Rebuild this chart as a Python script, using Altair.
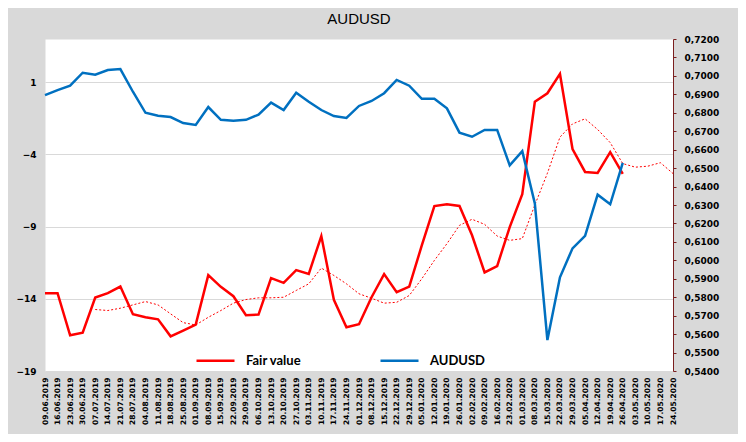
import altair as alt
import pandas as pd

dates = ["09.06.2019", "16.06.2019", "23.06.2019", "30.06.2019", "07.07.2019", "14.07.2019",
         "21.07.2019", "28.07.2019", "04.08.2019", "11.08.2019", "18.08.2019", "25.08.2019",
         "01.09.2019", "08.09.2019", "15.09.2019", "22.09.2019", "29.09.2019", "06.10.2019",
         "13.10.2019", "20.10.2019", "27.10.2019", "03.11.2019", "10.11.2019", "17.11.2019",
         "24.11.2019", "01.12.2019", "08.12.2019", "15.12.2019", "22.12.2019", "29.12.2019",
         "05.01.2020", "12.01.2020", "19.01.2020", "26.01.2020", "02.02.2020", "09.02.2020",
         "16.02.2020", "23.02.2020", "01.03.2020", "08.03.2020", "15.03.2020", "22.03.2020",
         "29.03.2020", "05.04.2020", "12.04.2020", "19.04.2020", "26.04.2020", "03.05.2020",
         "10.05.2020", "17.05.2020", "24.05.2020"]

fair_value = [-13.61, -13.61, -16.53, -16.34, -13.91, -13.61, -13.15, -15.07, -15.28, -15.42,
              -16.60, -16.20, -15.78, -12.36, -13.17, -13.82, -15.14, -15.09, -12.57, -12.89,
              -12.01, -12.27, -9.65, -14.07, -15.97, -15.76, -13.89, -12.29, -13.54, -13.15,
              -10.30, -7.57, -7.45, -7.57, -9.60, -12.17, -11.73, -9.03, -6.75, -0.35,
              0.24, 1.58, -3.62, -5.21, -5.28, -3.84, -5.35]

fair_avg_start = 4
fair_avg = [-14.74, -14.81, -14.65, -14.42, -14.19, -14.42, -15.04, -15.65, -15.81, -15.28,
            -14.81, -14.30, -14.05, -13.93, -13.93, -13.89, -13.42, -12.96, -11.87, -12.38,
            -12.96, -13.65, -13.96, -14.30, -14.24, -13.77, -12.61, -11.34, -10.18, -8.91,
            -8.49, -8.84, -9.65, -9.95, -9.83, -7.5, -5.3, -2.8, -1.88, -1.53,
            -2.27, -3.18, -4.63, -4.88, -4.81, -4.57, -5.32]

audusd = [0.6896, 0.6923, 0.6947, 0.7017, 0.7006, 0.7032, 0.7037, 0.6914, 0.6800, 0.6784,
          0.6777, 0.6744, 0.6734, 0.6831, 0.6762, 0.6757, 0.6762, 0.6790, 0.6855, 0.6815,
          0.6909, 0.6860, 0.6815, 0.6782, 0.6772, 0.6837, 0.6864, 0.6906, 0.6978, 0.6947,
          0.6876, 0.6876, 0.6824, 0.6692, 0.6670, 0.6707, 0.6707, 0.6515, 0.6592, 0.6309,
          0.5568, 0.5908, 0.6065, 0.6133, 0.6356, 0.6304, 0.6528]

left_ticks = [-19, -14, -9, -4, 1]
right_ticks = [0.54, 0.55, 0.56, 0.57, 0.58, 0.59, 0.60, 0.61, 0.62, 0.63,
               0.64, 0.65, 0.66, 0.67, 0.68, 0.69, 0.70, 0.71, 0.72]

df_fair = pd.DataFrame({"date": dates[:len(fair_value)], "value": fair_value, "series": "Fair value"})
df_avg = pd.DataFrame({"date": dates[fair_avg_start:fair_avg_start + len(fair_avg)], "value": fair_avg})
df_aud = pd.DataFrame({"date": dates[:len(audusd)], "value": audusd, "series": "AUDUSD"})

LABEL_FONT = "DejaVu Sans"

x_enc = alt.X("date:O",
              scale=alt.Scale(type="point", domain=dates, padding=0),
              axis=alt.Axis(title=None, labelAngle=270, labelFont=LABEL_FONT, labelFontSize=7.5,
                            labelFontWeight="bold", labelColor="black", labelPadding=6,
                            labelOverlap=False, ticks=False, domain=False, grid=False))

color_scale = alt.Scale(domain=["Fair value", "AUDUSD"], range=["#ff0000", "#0070c0"])
legend = alt.Legend(title=None, orient="none", legendX=150, legendY=301, direction="horizontal",
                    symbolType="stroke", symbolSize=1444, symbolStrokeWidth=2.5,
                    labelFont="Lato", labelFontSize=13, labelFontWeight="bold", labelColor="black",
                    labelOffset=10, columnPadding=73)

left_y = alt.Y("value:Q", scale=alt.Scale(domain=[-19, 4], nice=False, zero=False),
               axis=alt.Axis(title=None, values=left_ticks, labelFont=LABEL_FONT, labelFontSize=9,
                             labelFontWeight="bold", labelColor="black", labelPadding=9,
                             ticks=False, domain=False, grid=True, gridColor="#d9d9d9",
                             gridWidth=1))

fair_line = alt.Chart(df_fair).mark_line(strokeWidth=2.5).encode(
    x=x_enc, y=left_y,
    color=alt.Color("series:N", scale=color_scale, legend=legend))

avg_line = alt.Chart(df_avg).mark_line(strokeWidth=1, strokeDash=[2, 2], color="#ff0000").encode(
    x=x_enc, y=alt.Y("value:Q", scale=alt.Scale(domain=[-19, 4], nice=False, zero=False)))

right_y = alt.Y("value:Q", scale=alt.Scale(domain=[0.54, 0.72], nice=False, zero=False),
                axis=alt.Axis(title=None, orient="right", values=right_ticks,
                              labelExpr="replace(format(datum.value, '.4f'), '.', ',')",
                              labelFont=LABEL_FONT, labelFontSize=9, labelFontWeight="bold",
                              labelColor="black", labelPadding=8, tickSize=3, tickColor="#7a1f1f",
                              domain=True, domainColor="#7a1f1f", domainWidth=1, grid=False))

aud_line = alt.Chart(df_aud).mark_line(strokeWidth=2.5).encode(
    x=x_enc, y=right_y,
    color=alt.Color("series:N", scale=color_scale, legend=legend))

left = alt.layer(fair_line, avg_line)
chart = alt.layer(left, aud_line).resolve_scale(y="independent").properties(
    width=628, height=332,
    title=alt.TitleParams("AUDUSD", font="Liberation Sans", fontSize=15, fontWeight="normal",
                          color="black", anchor="middle", offset=8),
    autosize=alt.AutoSizeParams(type="none"),
    padding={"left": 37, "top": 31, "right": 65, "bottom": 63},
    background="#d9d9d9",
).configure_view(fill="white", stroke="transparent")

chart.save("out.html", embed_options={"renderer": "svg", "actions": False})
